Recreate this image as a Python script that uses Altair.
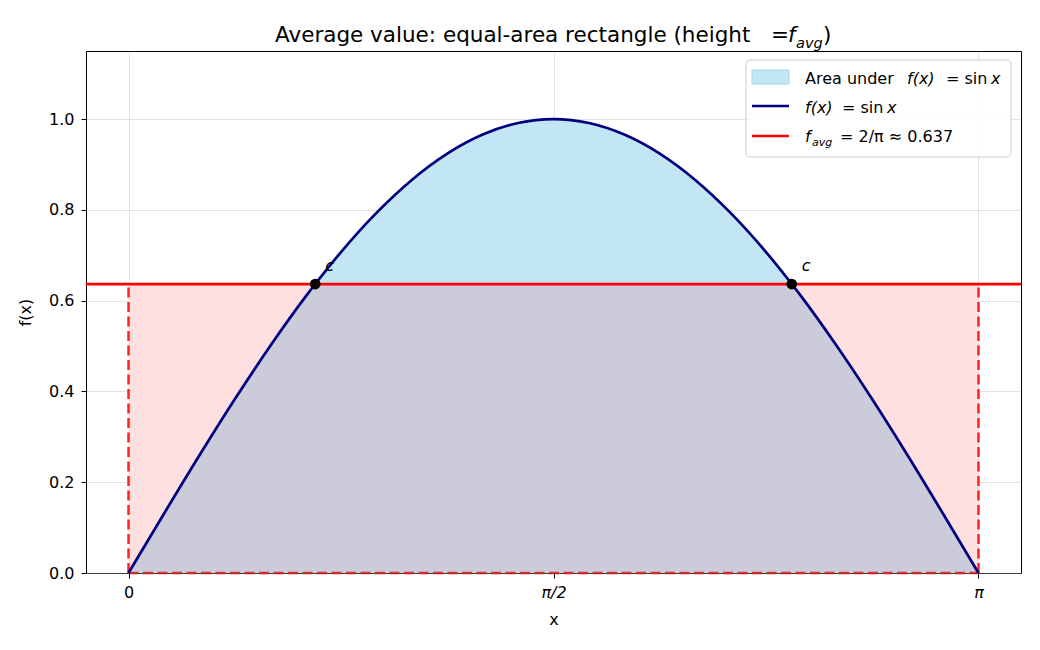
import altair as alt
import pandas as pd

FONT = "DejaVu Sans"

# f(x) = sin x sampled along x (x given in units of pi), including the two crossing points c
x_pi = [0.0, 0.0417, 0.0833, 0.125, 0.1667, 0.2083, 0.2197, 0.25, 0.2917, 0.3333, 0.375, 0.4167, 0.4583, 0.5,
        0.5417, 0.5833, 0.625, 0.6667, 0.7083, 0.75, 0.7803, 0.7917, 0.8333, 0.875, 0.9167, 0.9583, 1.0]
f_vals = [0.0, 0.1305, 0.2588, 0.3827, 0.5, 0.6088, 0.6366, 0.7071, 0.7934, 0.866, 0.9239, 0.9659, 0.9914, 1.0,
          0.9914, 0.9659, 0.9239, 0.866, 0.7934, 0.7071, 0.6366, 0.6088, 0.5, 0.3827, 0.2588, 0.1305, 0.0]

f_avg = 0.6366            # 2/pi
c_pi = [0.2197, 0.7803]   # points where sin x = f_avg
tick_vals = [0.0, 0.5, 1.0]
tick_text = ["0", "π/2", "π"]

W, H = 935, 522

curve = pd.DataFrame({"x": x_pi, "f": f_vals})
rect = pd.DataFrame({"x": [0.0], "x2": [1.0], "f": [0.0], "f2": [f_avg]})
dash_v = pd.DataFrame({"x": [0.0, 1.0], "x2": [0.0, 1.0], "f": [0.0, 0.0], "f2": [f_avg, f_avg]})
dash_h = pd.DataFrame({"x": [0.0], "x2": [1.0], "f": [0.0], "f2": [0.0]})
cpts = pd.DataFrame({"x": c_pi, "f": [f_avg, f_avg], "lab": ["c", "c"]})
one = pd.DataFrame({"k": [0]})

label_expr = " : ".join(
    f"datum.value == {v} ? '{t}'" for v, t in zip(tick_vals[:-1], tick_text[:-1])
) + f" : '{tick_text[-1]}'"

X = alt.X("x:Q", title="x",
          scale=alt.Scale(domain=[-0.05, 1.05], nice=False, zero=False),
          axis=alt.Axis(values=tick_vals, labelExpr=label_expr, titlePadding=11, labelPadding=6,
                        labelFontStyle=alt.condition("datum.value > 0", alt.value("italic"),
                                                     alt.value("normal"))))
Y = alt.Y("f:Q", title="f(x)",
          scale=alt.Scale(domain=[0, 1.15], nice=False),
          axis=alt.Axis(values=[0, 0.2, 0.4, 0.6, 0.8, 1.0], format=".1f", titlePadding=15, labelPadding=7))

# filled regions
rect_fill = alt.Chart(rect).mark_rect(color="#ffe0e0").encode(x=X, x2="x2", y=Y, y2="f2")
blue_fill = alt.Chart(curve).mark_area(color="#c3e6f5", interpolate="monotone").encode(x=X, y=Y)
overlap = alt.Chart(curve).transform_calculate(
    f=f"min(datum.f, {f_avg})"
).mark_area(color="#cbcbd9", interpolate="monotone").encode(x=X, y=Y)

# dashed rectangle outline
dashed_v = alt.Chart(dash_v).mark_rule(color="red", opacity=0.85, strokeWidth=2.5, strokeDash=[10, 4.5]).encode(
    x=X, y=Y, y2="f2")
dashed_h = alt.Chart(dash_h).mark_rule(color="#cc2020", opacity=0.85, strokeWidth=2.5, strokeDash=[10, 4.5]).encode(
    x=X, x2="x2", y=Y)

sin_line = alt.Chart(curve).mark_line(color="#000080", strokeWidth=2.7, interpolate="monotone").encode(x=X, y=Y)
avg_line = alt.Chart(pd.DataFrame({"f": [f_avg]})).mark_rule(color="red", strokeWidth=2.8).encode(y=Y)

dots = alt.Chart(cpts).mark_circle(color="black", size=115, opacity=1).encode(x=X, y=Y)
c_text = alt.Chart(cpts).mark_text(font=FONT, fontSize=16, fontStyle="italic", align="left",
                                   baseline="alphabetic", dx=10, dy=-13, color="black").encode(
    x=X, y=Y, text="lab:N")


def piece(txt, px, py, size=16, style="normal", align="left"):
    return alt.Chart(one).mark_text(text=txt, font=FONT, fontSize=size, fontStyle=style, align=align,
                                    baseline="alphabetic", color="black").encode(
        x=alt.value(px), y=alt.value(py))


# title: "Average value: equal-area rectangle (height = f_avg)"
title_parts = [
    piece("Average value: equal-area rectangle (height", 189, -9, size=21.5),
    piece("=", 685, -9, size=21.5),
    piece("f", 702, -9, size=21.5, style="italic"),
    piece("avg", 710, -3, size=14.5, style="italic"),
    piece(")", 737, -9, size=21.5),
]

# legend
leg_box = alt.Chart(one).mark_rect(fill="white", fillOpacity=0.85, stroke="#cccccc", strokeWidth=1,
                                   cornerRadius=4).encode(
    x=alt.value(660), x2=alt.value(925), y=alt.value(9), y2=alt.value(106))
leg_patch = alt.Chart(one).mark_rect(fill="#c3e6f5", stroke="#a5d6ea", strokeWidth=1).encode(
    x=alt.value(666), x2=alt.value(703), y=alt.value(19), y2=alt.value(33))
leg_navy = alt.Chart(one).mark_rule(color="#000080", strokeWidth=2.5).encode(
    x=alt.value(666), x2=alt.value(703), y=alt.value(55))
leg_red = alt.Chart(one).mark_rule(color="red", strokeWidth=2.5).encode(
    x=alt.value(666), x2=alt.value(703), y=alt.value(85))
legend_parts = [
    piece("Area under", 719, 33),
    piece("f(x)", 821, 33, style="italic"),
    piece("= sin", 860, 33),
    piece("x", 905, 33, style="italic"),
    piece("f(x)", 719, 62, style="italic"),
    piece("= sin", 756, 62),
    piece("x", 801, 62, style="italic"),
    piece("f", 719, 91, style="italic"),
    piece("avg", 726, 95, size=11, style="italic"),
    piece("= 2/π ≈ 0.637", 754, 91),
]

chart = alt.layer(
    rect_fill, blue_fill, overlap, dashed_v, dashed_h, sin_line, avg_line, dots, c_text,
    *title_parts, leg_box, leg_patch, leg_navy, leg_red, *legend_parts,
).properties(
    width=W, height=H,
    autosize=alt.AutoSizeParams(type="none"),
    padding={"left": 86, "top": 51, "right": 19, "bottom": 77},
    background="white",
).configure_view(
    stroke="black", strokeWidth=1
).configure_axis(
    grid=True, gridColor="#b0b0b0", gridOpacity=0.35, gridWidth=1, zindex=1,
    domain=False, ticks=True, tickColor="black", tickSize=5, tickWidth=1,
    labelFont=FONT, labelFontSize=16, labelColor="black",
    titleFont=FONT, titleFontSize=16, titleFontWeight="normal", titleColor="black",
)

chart.save("out.html", embed_options={"renderer": "svg", "actions": False})
